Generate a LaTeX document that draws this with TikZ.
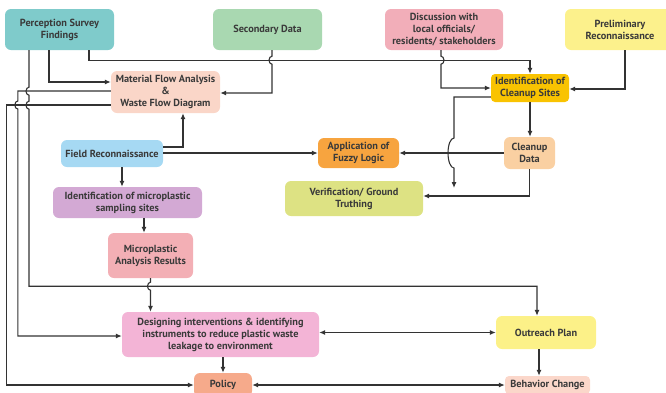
\documentclass[tikz,border=0pt]{standalone}
\usepackage{fontspec}
\setmainfont{PT Sans}
\usetikzlibrary{arrows.meta}
\definecolor{txt}{HTML}{3A3A3A}
\definecolor{ln}{HTML}{333333}
\definecolor{cPSF}{HTML}{7FCBCB}
\definecolor{cSD}{HTML}{A9D8B1}
\definecolor{cDIS}{HTML}{F2AEB9}
\definecolor{cPR}{HTML}{FCF18C}
\definecolor{cMFA}{HTML}{FAD6C8}
\definecolor{cICS}{HTML}{F9C301}
\definecolor{cFR}{HTML}{A6D9F3}
\definecolor{cAFL}{HTML}{F7A43F}
\definecolor{cCD}{HTML}{FAD0A2}
\definecolor{cVGT}{HTML}{DDE283}
\definecolor{cIMS}{HTML}{D3A9D4}
\definecolor{cMAR}{HTML}{F3AFB5}
\definecolor{cDI}{HTML}{F3B4D6}
\definecolor{cOP}{HTML}{FCF188}
\definecolor{cPOL}{HTML}{F6AA8B}
\definecolor{cBC}{HTML}{FBD7CA}

\begin{document}
\begin{tikzpicture}[x=1pt,y=-1pt,
  box/.style={rounded corners=6pt,align=center,inner sep=0pt,text=txt,
    font=\fontsize{10.3}{12}\selectfont\bfseries},
  arr/.style={draw=ln,line width=1.1pt,-{Latex[length=6pt,width=5pt]}},
  both/.style={draw=ln,line width=1.1pt,{Latex[length=6pt,width=5pt]}-{Latex[length=6pt,width=5pt]}}]
\useasboundingbox (0,0) rectangle (666,392);

\node[box,fill=cPSF,minimum width=109pt,minimum height=41pt] (PSF) at (59.5,29.5) {Perception Survey\\Findings};
\node[box,fill=cSD,minimum width=109pt,minimum height=41pt] (SD) at (267.5,29.5) {Secondary Data};
\node[box,fill=cDIS,minimum width=118pt,minimum height=41pt] (DIS) at (444,29.5) {Discussion with\\local officials/\\residents/ stakeholders};
\node[box,fill=cPR,minimum width=110pt,minimum height=41pt] (PR) at (620,29.5) {Preliminary\\Reconnaissance};
\node[box,fill=cMFA,minimum width=109pt,minimum height=42pt] (MFA) at (165.5,92) {Material Flow Analysis\\\&\\Waste Flow Diagram};
\node[box,fill=cICS,minimum width=78pt,minimum height=28pt,rounded corners=4pt] (ICS) at (530,88) {Identification of\\Cleanup Sites};
\node[box,fill=cFR,minimum width=102pt,minimum height=27pt] (FR) at (112,153.5) {Field Reconnaissance};
\node[box,fill=cAFL,minimum width=81pt,minimum height=30pt] (AFL) at (358.5,153) {Application of\\Fuzzy Logic};
\node[box,fill=cCD,minimum width=51pt,minimum height=32pt] (CD) at (529.5,153) {Cleanup\\Data};
\node[box,fill=cVGT,minimum width=138pt,minimum height=35pt] (VGT) at (354,198.5) {Verification/ Ground\\Truthing};
\node[box,fill=cIMS,minimum width=149pt,minimum height=31pt] (IMS) at (127.5,202.5) {Identification of microplastic\\sampling sites};
\node[box,fill=cMAR,minimum width=85pt,minimum height=45pt] (MAR) at (150.5,255.5) {Microplastic\\Analysis Results};
\node[box,fill=cDI,minimum width=197pt,minimum height=45pt] (DI) at (220.5,334.5) {Designing interventions \& identifying\\instruments to reduce plastic waste\\leakage to environment};
\node[box,fill=cOP,minimum width=100pt,minimum height=33pt] (OP) at (546,332.5) {Outreach Plan};
\node[box,fill=cPOL,minimum width=58pt,minimum height=24pt] (POL) at (223,385) {Policy};
\node[box,fill=cBC,minimum width=85pt,minimum height=18pt,rounded corners=4pt] (BC) at (547.5,385) {Behavior Change};

\coordinate (HOP) at (454,138);
\coordinate (VIN) at (454,188);

\draw[arr] ([xshift=-10.5]PSF.south) |- ([yshift=10]MFA.west);
\draw[arr] ([xshift=29.5]PSF.south) -- ++(0,10) -| (ICS.north);
\draw[arr] ([xshift=-30.5]PSF.south) -- ++(0,37) arc[start angle=90,end angle=270,x radius=3pt,y radius=4pt]
  -- ++(0,6) arc[start angle=90,end angle=270,x radius=3pt,y radius=4pt] -- ++(0,177) -| ([xshift=-9]OP.north);
\draw[arr] ([xshift=4.5]SD.south) -- ++(0,6) arc[start angle=90,end angle=270,x radius=3pt,y radius=4pt] |- ([yshift=-1]MFA.east);
\draw[arr] ([xshift=-3]DIS.south) -- ++(0,6) arc[start angle=90,end angle=-90,x radius=3pt,y radius=4pt] |- (ICS.west);
\draw[arr] ([xshift=5]PR.south) |- ([yshift=-1]ICS.east);
\draw[arr] ([yshift=-9]ICS.west) -| (HOP) arc[start angle=90,end angle=270,x radius=6pt,y radius=15pt] -- (VIN);
\draw[arr] (ICS.south) -- (ICS.south |- CD.north);
\draw[arr] (CD.west) -- (AFL.east);
\draw[arr] (CD.south) |- ([yshift=2.5]VGT.east);
\draw[arr] ([yshift=6.5]FR.east) -| ([xshift=17.5]MFA.south);
\draw[arr] (FR.east |- AFL.west) -- (AFL.west);
\draw[arr] ([xshift=10]FR.south) -- ([xshift=10]FR.south |- IMS.north);
\draw[arr] ([xshift=16.5]IMS.south) -- ([xshift=16.5]IMS.south |- MAR.north);
\draw[arr] (MAR.south) -- ++(0,4) arc[start angle=90,end angle=270,x radius=3pt,y radius=4pt] -- (MAR.south |- DI.north);
\draw[arr] ([yshift=1]MFA.west) -- ++(-93,0) -- ++(0,10) arc[start angle=90,end angle=270,x radius=3pt,y radius=4pt]
  |- ([yshift=-1.5]DI.west);
\draw[arr] ([yshift=-13]MFA.west) -- ++(-104,0) |- (POL.west);
\draw[both] (DI.east |- OP.west) -- (OP.west);
\draw[arr] (DI.south -| POL.north) -- (POL.north);
\draw[arr] ([xshift=-7]OP.south) -- ([xshift=-7]OP.south |- BC.north);
\draw[both] (POL.east) -- (BC.west);
\end{tikzpicture}
\end{document}
